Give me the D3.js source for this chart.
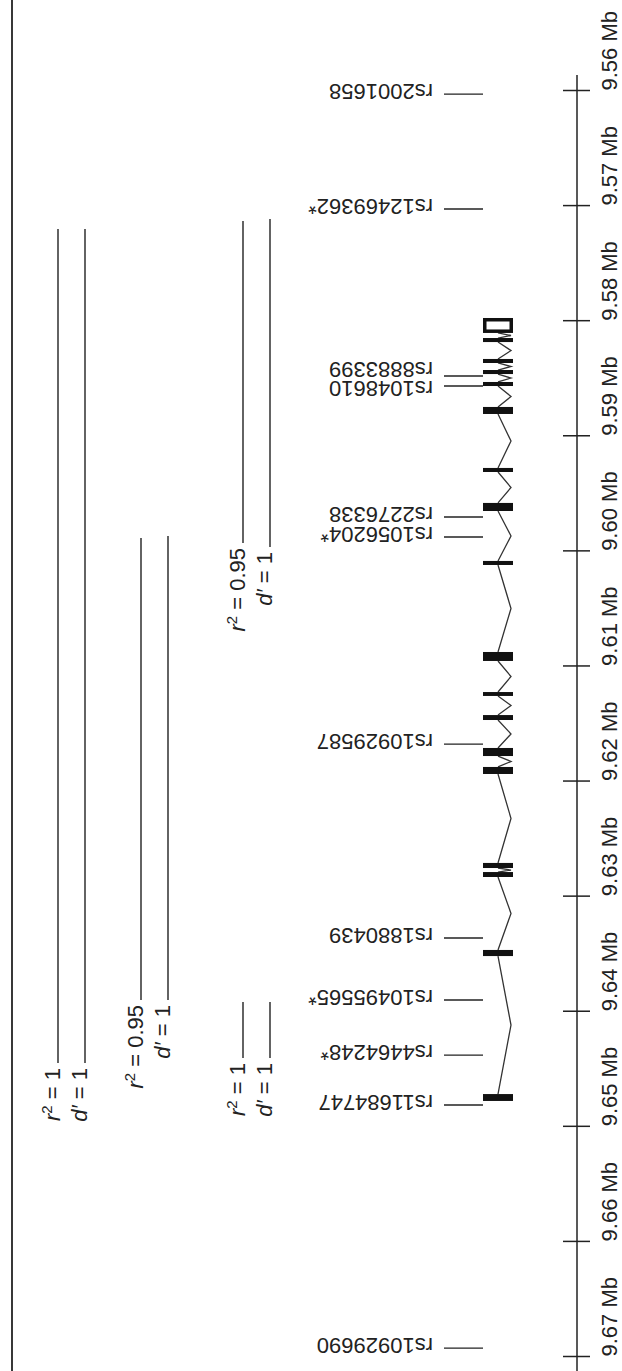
<!DOCTYPE html>
<html><head><meta charset="utf-8">
<script src="https://cdn.jsdelivr.net/npm/d3@7"></script>
<style>body{margin:0;background:#fff}svg{display:block}</style>
</head><body><svg id="c" width="622" height="1371"></svg>
<script>
// ---- data (positions in Mb) ----
const tickValues = [9.56, 9.57, 9.58, 9.59, 9.60, 9.61, 9.62, 9.63, 9.64, 9.65, 9.66, 9.67];
const tickLabels = ["9.56 Mb","9.57 Mb","9.58 Mb","9.59 Mb","9.60 Mb","9.61 Mb","9.62 Mb","9.63 Mb","9.64 Mb","9.65 Mb","9.66 Mb","9.67 Mb"];

const snpNames = ["rs2001658","rs12469362*","rs8883399","rs1048610","rs2276338","rs1056204*","rs10929587","rs1880439","rs10495565*","rs4464248*","rs11684747","rs10929690"];
const snpPositions = [9.56035, 9.57034, 9.58485, 9.58572, 9.59710, 9.59884, 9.61683, 9.63368, 9.63907, 9.64385, 9.64819, 9.66931];

const utrStarts = [9.57981];
const utrEnds   = [9.58111];
const exonStarts = [9.58155, 9.58337, 9.58433, 9.58537, 9.58754, 9.59284, 9.59588, 9.60092, 9.60883, 9.61231, 9.61431, 9.61717, 9.61882, 9.62716, 9.62795, 9.63472, 9.64724];
const exonEnds   = [9.58190, 9.58372, 9.58468, 9.58572, 9.58815, 9.59319, 9.59658, 9.60127, 9.60961, 9.61265, 9.61474, 9.61787, 9.61943, 9.62760, 9.62838, 9.63525, 9.64784];

const ldLane    = [0, 0, 1, 1, 2, 2, 2, 2];
const ldMeasure = ["r2","d","r2","d","r2","d","r2","d"];
const ldValue   = ["1","1","0.95","1","0.95","1","1","1"];
const ldStarts  = [9.57208, 9.57208, 9.59893, 9.59875, 9.57138, 9.57121, 9.63924, 9.63924];
const ldEnds    = [9.64454, 9.64454, 9.63907, 9.63907, 9.59936, 9.59971, 9.64411, 9.64411];

// ---- layout ----
const svg = d3.select("#c");
const ink = "#222";
const font = "'Liberation Sans', Arial, Helvetica, sans-serif";
const fs = "22px";
const y = d3.scaleLinear().domain([9.56, 9.67]).range([90, 1356]);
const axisX = 577;
const laneX = d3.scaleOrdinal().domain([0,1,2]).range([58, 141, 243]);
const measureOffset = d3.scaleOrdinal().domain(["r2","d"]).range([0, 27]);
const geneX = 498, exonW = 30, apexX = 511;

// left border line
svg.append("line").attr("x1",12).attr("x2",12).attr("y1",0).attr("y2",1371)
  .attr("stroke",ink).attr("stroke-width",1.8);

// axis
const axisG = svg.append("g").attr("transform",`translate(${axisX},0)`);
axisG.append("line").attr("x1",0).attr("x2",0)
  .attr("y1", y(9.56) - 15).attr("y2", 1371)
  .attr("stroke",ink).attr("stroke-width",1.5);
const axis = d3.axisRight(y).tickValues(tickValues).tickSize(13).tickFormat((d,i)=>tickLabels[i]);
axisG.call(axis);
axisG.select(".domain").remove();
axisG.selectAll(".tick line").attr("x1",-14).attr("x2",13).attr("stroke",ink).attr("stroke-width",1.5);
axisG.selectAll(".tick text")
  .attr("x",null).attr("dy",null)
  .attr("transform","translate(40,0) rotate(-90)")
  .attr("text-anchor","start")
  .attr("fill",ink)
  .style("font-family",font).style("font-size",fs);

// gene model: introns
const feats = utrStarts.map((s,i)=>({s, e: utrEnds[i]}))
  .concat(exonStarts.map((s,i)=>({s, e: exonEnds[i]})))
  .sort((a,b)=>a.s-b.s);
const intronPts = [];
for (let i=0;i<feats.length-1;i++){
  const a = feats[i].e, b = feats[i+1].s;
  intronPts.push([[geneX, y(a)],[apexX, y((a+b)/2)],[geneX, y(b)]]);
}
svg.append("g").selectAll("path").data(intronPts).join("path")
  .attr("d", d3.line()).attr("fill","none").attr("stroke","#333").attr("stroke-width",1.3);

// exons
svg.append("g").selectAll("rect").data(exonStarts).join("rect")
  .attr("x", geneX - exonW/2).attr("width", exonW)
  .attr("y",(d)=>y(d)).attr("height",(d,i)=>Math.max(3.5, y(exonEnds[i]) - y(d)))
  .attr("fill","#111");
// UTR (open box)
svg.append("g").selectAll("rect").data(utrStarts).join("rect")
  .attr("x", geneX - exonW/2 + 1.75).attr("width", exonW - 3.5)
  .attr("y",(d)=>y(d)+1.75).attr("height",(d,i)=>y(utrEnds[i]) - y(d) - 3.5)
  .attr("fill","#fff").attr("stroke","#111").attr("stroke-width",3.5);

// SNP labels (with simple collision nudging for the text)
const labelY = snpPositions.map(p=>y(p));
const minGap = 19;
for (let i=0;i<labelY.length-1;i++){
  const gap = labelY[i+1]-labelY[i];
  if (gap < minGap){ const s=(minGap-gap)/2; labelY[i]-=s; labelY[i+1]+=s; }
}
const snpG = svg.append("g");
snpG.selectAll("line").data(snpPositions).join("line")
  .attr("x1",444).attr("x2",483)
  .attr("y1",d=>y(d)).attr("y2",d=>y(d))
  .attr("stroke",ink).attr("stroke-width",1.3);
snpG.selectAll("text").data(snpNames).join("text")
  .attr("transform",(d,i)=>`translate(433,${labelY[i] - 10}) rotate(180)`)
  .attr("text-anchor","start")
  .attr("fill",ink)
  .style("font-family",font).style("font-size",fs)
  .text(d=>d);

// LD bars
const ldG = svg.append("g");
const ldIdx = d3.range(ldStarts.length);
const lx = i => laneX(ldLane[i]) + measureOffset(ldMeasure[i]);
ldG.selectAll("line").data(ldIdx).join("line")
  .attr("x1",lx).attr("x2",lx)
  .attr("y1",i=>y(ldStarts[i])).attr("y2",i=>y(ldEnds[i]))
  .attr("stroke",ink).attr("stroke-width",1.4);
const lt = ldG.selectAll("text").data(ldIdx).join("text")
  .attr("transform",i=>`translate(${lx(i)+2},${y(ldEnds[i]) + 5}) rotate(-90)`)
  .attr("text-anchor","end")
  .attr("fill",ink)
  .style("font-family",font).style("font-size",fs);
lt.each(function(i){
  const t = d3.select(this);
  if (ldMeasure[i]==="r2"){
    t.append("tspan").attr("font-style","italic").text("r");
    t.append("tspan").attr("dy",-8).style("font-size","15px").text("2");
    t.append("tspan").attr("dy",8).text(" = " + ldValue[i]);
  } else {
    t.append("tspan").attr("font-style","italic").text("d\u2032");
    t.append("tspan").text(" = " + ldValue[i]);
  }
});
</script>
</body></html>
